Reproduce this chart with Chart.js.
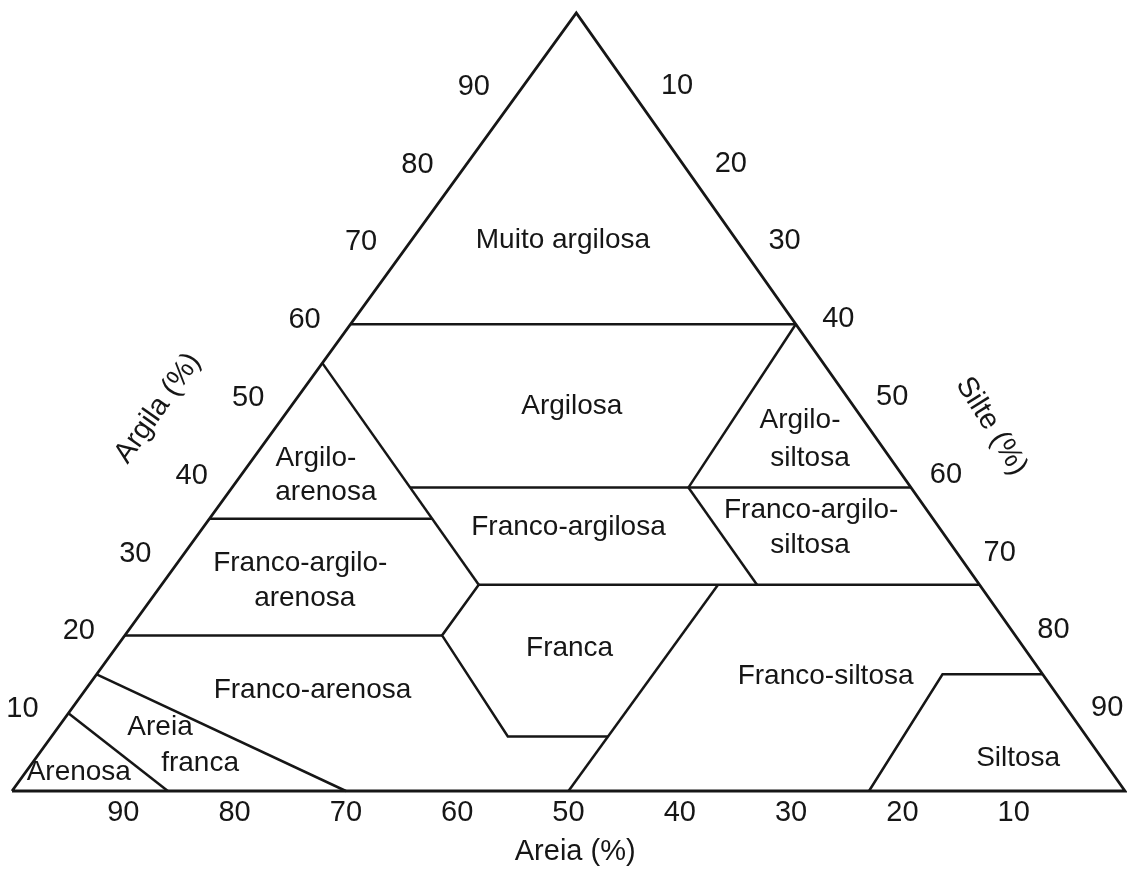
<!DOCTYPE html>
<html lang="pt">
<head>
<meta charset="utf-8">
<title>Triângulo textural</title>
<script src="https://cdn.jsdelivr.net/npm/chart.js@4.4.1/dist/chart.umd.min.js"></script>
<style>
  html, body { margin: 0; padding: 0; background: #fff; }
  #wrap { width: 1127px; height: 872px; }
</style>
</head>
<body>
<div id="wrap"><canvas id="tri" width="1127" height="872"></canvas></div>
<script>
// ----------------------------
// Daten (Punkte als [areia, argila], silte = Rest)
// ----------------------------
const argilaTicks = [10, 20, 30, 40, 50, 60, 70, 80, 90];
const silteTicks  = [10, 20, 30, 40, 50, 60, 70, 80, 90];
const areiaTicks  = [90, 80, 70, 60, 50, 40, 30, 20, 10];

const contorno = [[100, 0], [0, 100], [0, 0], [100, 0]];

const limites = [
  [[40, 60], [0, 60]],                          // Muito argilosa
  [[45, 55], [45, 26.5]],                       // areia 45
  [[45, 39], [20, 39]],                         // Argilosa / Franco-argilosa
  [[20, 39], [0, 60]],                          // Argilosa / Argilo-siltosa
  [[20, 39], [0, 39]],                          // Argilo-siltosa unten
  [[65, 35], [45, 35]],                         // Argilo-arenosa unten
  [[20, 39], [20, 26.5]],                       // areia 20
  [[45, 26.5], [0, 26.5]],                      // argila 26,5
  [[45, 26.5], [51.5, 20], [52, 7], [43, 7]],   // Franca
  [[23.5, 26.5], [50, 0]],                      // silte 50
  [[80, 20], [51.5, 20]],                       // argila 20
  [[23, 0], [9, 15], [0, 15]],                  // Siltosa
  [[85, 15], [70, 0]],                          // Areia franca
  [[90, 10], [86, 0]]                           // Arenosa
];

// Klassennamen: [text, x, y] in Diagrammkoordinaten
const classes = [
  ['Muito argilosa', 49.5, 70.8],
  ['Argilosa', 50.3, 49.4],
  ['Argilo-', 27.3, 42.8],
  ['arenosa', 28.2, 38.4],
  ['Argilo-', 70.8, 47.7],
  ['siltosa', 71.7, 42.8],
  ['Franco-argilosa', 50.0, 33.9],
  ['Franco-argilo-', 71.8, 36.1],
  ['siltosa', 71.7, 31.6],
  ['Franco-argilo-', 25.9, 29.3],
  ['arenosa', 26.3, 24.8],
  ['Franca', 50.1, 18.4],
  ['Franco-siltosa', 73.1, 14.8],
  ['Franco-arenosa', 27.0, 13.0],
  ['Siltosa', 90.4, 4.2],
  ['Areia', 13.3, 8.2],
  ['franca', 16.9, 3.6],
  ['Arenosa', 6.0, 2.4]
];

const APEX = 0.507;   // horizontale Lage der Spitze
const FONT = '"Liberation Sans", Arial, sans-serif';
const INK = '#161616';

function toXY(p) {
  const areia = p[0], argila = p[1];
  const silte = 100 - areia - argila;
  return { x: silte + argila * APEX, y: argila };
}

// ----------------------------
// Datasets
// ----------------------------
const datasets = [contorno].concat(limites).map((linha, i) => ({
  data: linha.map(toXY),
  showLine: true,
  borderColor: INK,
  borderWidth: i === 0 ? 2.8 : 2.5,
  pointRadius: 0,
  fill: false,
  tension: 0,
  clip: false
}));

// ----------------------------
// Beschriftungen
// ----------------------------
const labelsPlugin = {
  id: 'ternaryLabels',
  afterDraw(chart) {
    const ctx = chart.ctx;
    const xs = chart.scales.x, ys = chart.scales.y;
    const px = (p) => ({ x: xs.getPixelForValue(p.x), y: ys.getPixelForValue(p.y) });

    ctx.save();
    ctx.fillStyle = INK;
    ctx.textAlign = 'center';
    ctx.textBaseline = 'middle';

    ctx.font = '28px ' + FONT;
    classes.forEach(([t, x, y]) => {
      ctx.fillText(t, xs.getPixelForValue(x), ys.getPixelForValue(y));
    });

    ctx.font = '29px ' + FONT;
    argilaTicks.forEach(c => {
      const p = px(toXY([100 - c, c]));
      ctx.fillText(String(c), p.x - 46, p.y - 4);
    });
    silteTicks.forEach(s => {
      const p = px(toXY([0, 100 - s]));
      ctx.fillText(String(s), p.x + 47 - s * 0.11, p.y - 5);
    });
    areiaTicks.forEach(a => {
      const p = px(toXY([a, 0]));
      ctx.fillText(String(a), p.x, p.y + 22);
    });

    // Achsentitel
    ctx.font = '29px ' + FONT;
    ctx.fillText('Areia (%)', xs.getPixelForValue(50.6), ys.getPixelForValue(-7.9));

    ctx.save();
    ctx.translate(xs.getPixelForValue(13.1), ys.getPixelForValue(49.2));
    ctx.rotate(-54.7 * Math.PI / 180);
    ctx.fillText('Argila (%)', 0, 0);
    ctx.restore();

    ctx.save();
    ctx.translate(xs.getPixelForValue(88.0), ys.getPixelForValue(46.9));
    ctx.rotate(58 * Math.PI / 180);
    ctx.fillText('Silte (%)', 0, 0);
    ctx.restore();

    ctx.restore();
  }
};

new Chart(document.getElementById('tri'), {
  type: 'scatter',
  data: { datasets },
  options: {
    responsive: false,
    animation: false,
    layout: { padding: { left: 12, right: 2, top: 13, bottom: 81 } },
    plugins: { legend: { display: false }, tooltip: { enabled: false } },
    scales: {
      x: { type: 'linear', min: 0, max: 100, display: false },
      y: { type: 'linear', min: 0, max: 100, display: false }
    }
  },
  plugins: [labelsPlugin]
});
</script>
</body>
</html>
